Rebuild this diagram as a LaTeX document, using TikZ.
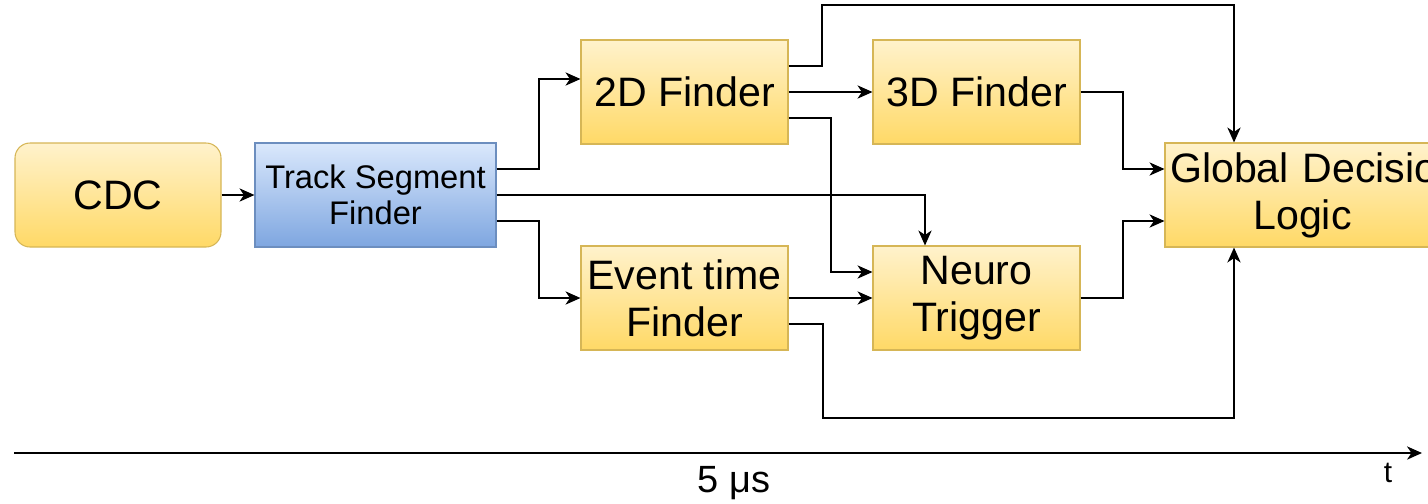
\documentclass[tikz,border=0pt]{standalone}
\usepackage{fontspec}
\setmainfont{Liberation Sans}
\usepackage{tikz}
\usetikzlibrary{arrows.meta}
\usetikzlibrary{positioning}

\definecolor{boxfilltop}{HTML}{FFF2CC}
\definecolor{boxfillbottom}{HTML}{FFD966}
\definecolor{boxline}{HTML}{D6B656}
\definecolor{tsffilltop}{HTML}{DAE8FC}
\definecolor{tsffillbottom}{HTML}{7EA6E0}
\definecolor{tsfline}{HTML}{6C8EBF}

\tikzset{
    block/.style={
           rectangle,
           draw=boxline, line width=0.6pt,
           top color=boxfilltop, bottom color=boxfillbottom,
           minimum width=4.14cm,
           minimum height=2.08cm,
           inner sep=2pt,
           align=center,
           font=\fontsize{23.4}{26.7}\selectfont,
           },
    tsfblock/.style={
           block,
           draw=tsfline,
           top color=tsffilltop, bottom color=tsffillbottom,
           minimum width=4.82cm,
           font=\fontsize{18.6}{20.5}\selectfont,
           },
    link/.style={line width=1.1pt},
}

\begin{document}
\begin{tikzpicture}[->,>={Stealth[length=8.5pt,width=7.5pt,inset=2.5pt]}]
        % frame of the whole picture
        \useasboundingbox (0,0) rectangle (28.56,-10.06);

        % CDC
        \node[block,
            rounded corners=0.3cm,
            minimum width=4.12cm] (TR_CDC) at (2.36,-3.9)
        {CDC};

        % Track Segment Finder
        \node[tsfblock,
            right of=TR_CDC,
            node distance=5.15cm,
            anchor=center] (TR_TSF)
        {Track Segment\\Finder};

        % 2D Finder
        \node[block,
            right of=TR_TSF,
            yshift=2.06cm,
            node distance=6.18cm,
            anchor=center] (TR_2D)
        {2D Finder};

        % Event time Finder
        \node[block,
            below of=TR_2D,
            node distance=4.12cm,
            anchor=center] (TR_ET)
        {Event time\\Finder};

        % 3D Finder
        \node[block,
            right of=TR_2D,
            node distance=5.84cm,
            anchor=center] (TR_3D)
        {3D Finder};

        % Neuro Trigger
        \node[block,
            right of=TR_ET,
            node distance=5.84cm,
            anchor=center] (TR_NT)
        {Neuro\\Trigger};

        % Global Decision Logic (runs off the right edge)
        \node[block,
            right of=TR_3D,
            yshift=-2.06cm,
            node distance=6.52cm,
            text width=5.3cm,
            minimum width=5.5cm,
            inner xsep=0.1cm,
            anchor=center] (TR_GDL)
        {\mbox{Global Decision}\\Logic};

        % the connections
        \draw[link] (TR_CDC) -- (TR_TSF);
        \draw[link] ([yshift=0.52cm]TR_TSF.east) -- ++(0.84,0) |- ([yshift=0.26cm]TR_2D.west);
        \draw[link] (TR_TSF.east) -| ([xshift=-1.03cm]TR_NT.north);
        \draw[link] ([yshift=-0.52cm]TR_TSF.east) -- ++(0.84,0) |- (TR_ET.west);
        \draw[link] ([yshift=0.52cm]TR_2D.east) -- ++(0.66,0) -- ++(0,1.22) -| ([xshift=-1.37cm]TR_GDL.north);
        \draw[link] (TR_2D) -- (TR_3D);
        \draw[link] ([yshift=-0.52cm]TR_2D.east) -- ++(0.84,0) |- ([yshift=0.52cm]TR_NT.west);
        \draw[link] (TR_3D.east) -- ++(0.84,0) |- ([yshift=0.52cm]TR_GDL.west);
        \draw[link] (TR_ET) -- (TR_NT);
        \draw[link] ([yshift=-0.52cm]TR_ET.east) -- ++(0.68,0) -- ++(0,-1.88) -| ([xshift=-1.37cm]TR_GDL.south);
        \draw[link] (TR_NT.east) -- ++(0.84,0) |- ([yshift=-0.52cm]TR_GDL.west);

        % time axis
        \coordinate (T_START) at (0.28,-9.06);
        \coordinate (T_END) at (28.44,-9.06);
        \draw[link] (T_START) -- (T_END);
        \node[anchor=base, font=\fontsize{21.6}{24}\selectfont] (T_SPAN) at (14.68,-9.84) {5 μs};
        \node[anchor=base, font=\fontsize{17}{20}\selectfont] (T_LABEL) at (27.76,-9.64) {t};

\end{tikzpicture}
\end{document}
